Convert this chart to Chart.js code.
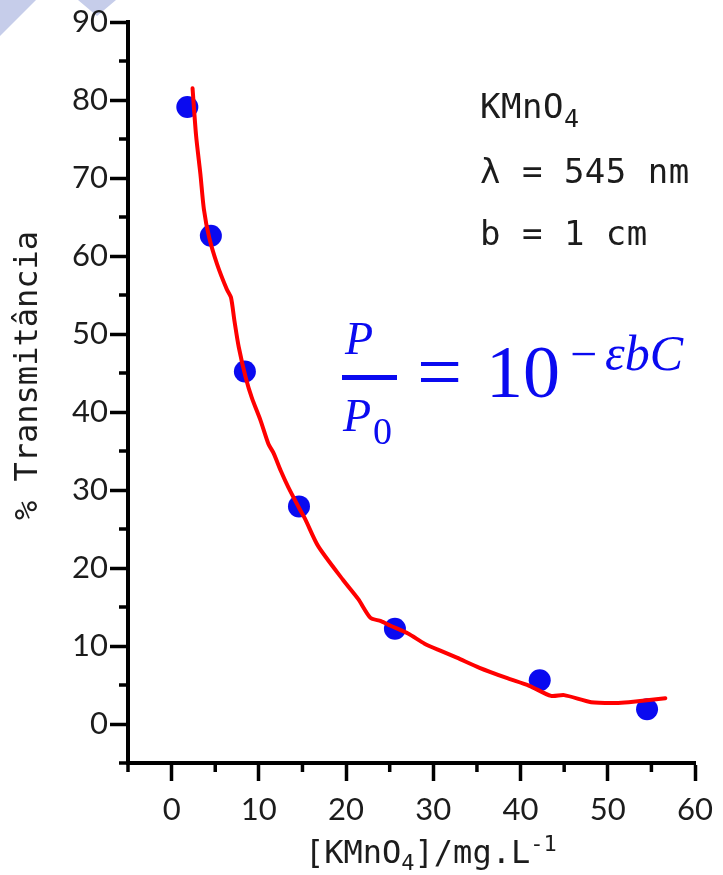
<!DOCTYPE html>
<html>
<head>
<meta charset="utf-8">
<script src="https://cdn.jsdelivr.net/npm/chart.js@4.4.1/dist/chart.umd.min.js"></script>
<style>
  html, body { margin: 0; padding: 0; background: #fff; }
  #wrap { position: relative; width: 723px; height: 875px; overflow: hidden; }
  #chartBox { position: absolute; left: 0; top: 0; width: 723px; height: 875px; z-index: 1; }
  .deco { position: absolute; background: #c6cdea; z-index: 0; }
  .mono { position: absolute; z-index: 2; font-family: "DejaVu Sans Mono", monospace; color: #1c1c1c; white-space: pre; line-height: 1; }
  .mono sub, .mono sup { line-height: 0; }
  .math { position: absolute; z-index: 2; font-family: "Liberation Serif", serif; color: #0a0af0; white-space: pre; line-height: 1; }
  .math.it { font-style: italic; }
</style>
</head>
<body>
<div id="wrap">
  <!-- slide background corner shapes -->
  <div class="deco" style="left:0;top:0;width:36px;height:36px;clip-path:polygon(0 0,100% 0,0 100%);"></div>
  <div class="deco" style="left:78px;top:0;width:38px;height:16px;clip-path:polygon(0 0,100% 0,50% 100%);"></div>

  <div id="chartBox"><canvas id="chart"></canvas></div>

  <!-- axis titles -->
  <div class="mono" id="yTitle" style="font-size:32px;left:10px;top:520px;transform-origin:0 0;transform:rotate(-90deg);">% Transmitância</div>
  <div class="mono" id="xTitle" style="font-size:32px;left:305px;top:836px;">[KMnO<sub style="font-size:22px;vertical-align:-7px">4</sub>]/mg.L<sup style="font-size:22px;vertical-align:12px">-1</sup></div>

  <!-- conditions -->
  <div class="mono" style="font-size:34px;left:480px;top:89px;letter-spacing:0.5px;">KMnO<sub style="font-size:25px;vertical-align:-9px">4</sub></div>
  <div class="mono" style="font-size:34px;left:480px;top:154px;letter-spacing:0.5px;">λ = 545 nm</div>
  <div class="mono" style="font-size:34px;left:480px;top:216px;letter-spacing:0.5px;">b = 1 cm</div>

  <!-- Beer-Lambert: P/P0 = 10^-εbC -->
  <div class="math it" style="font-size:46px;left:345px;top:316px;">P</div>
  <div style="position:absolute;z-index:2;left:342px;top:375px;width:55px;height:5px;background:#0a0af0;"></div>
  <div class="math it" style="font-size:46px;left:343px;top:393px;">P</div>
  <div class="math" style="font-size:38px;left:373px;top:412px;">0</div>
  <div class="math" style="font-size:80px;left:417px;top:332px;">=</div>
  <div class="math" style="font-size:74px;left:486px;top:335px;">10</div>
  <div class="math" style="font-size:48px;left:570px;top:330px;">−</div>
  <div class="math it" style="font-size:50px;left:605px;top:328px;">εbC</div>
</div>

<script>
// ── Data ──
const concData  = [1.8, 4.5, 8.4, 14.6, 25.6, 42.2, 54.5];
const transData = [79.1, 62.6, 45.2, 27.9, 12.2, 5.6, 1.9];

// hand-drawn red trend curve
const fitConc  = [2.4, 2.8, 3.3, 3.7, 4.3, 5.2, 6.3, 6.8, 7.2, 7.7, 8.5, 9.2, 10.2, 11.1, 11.7, 12.5, 13.4, 14.8, 15.3, 16.8,
                  19.7, 21.4, 22.8, 24.0, 25.1, 27.1, 29.0, 30.8, 32.7, 35.3, 38.4, 41.0, 43.5, 45.0, 48.1, 50.9, 52.4, 56.6];
const fitTrans = [81.5, 75.5, 70.5, 66.0, 62.4, 59.0, 55.8, 54.7, 51.7, 48.3, 44.4, 41.8, 38.9, 35.9, 34.7, 32.5, 30.3, 27.3, 26.3, 22.8,
                  18.4, 16.0, 13.6, 13.2, 12.6, 11.6, 10.3, 9.4, 8.5, 7.2, 5.9, 4.9, 3.6, 3.7, 2.8, 2.7, 2.8, 3.3];

// ── Axes ──
const xTicks      = [0, 10, 20, 30, 40, 50, 60];
const xMinorTicks = [-5, 5, 15, 25, 35, 45, 55];
const yTicks      = [0, 10, 20, 30, 40, 50, 60, 70, 80, 90];
const yMinorTicks = [-5, 5, 15, 25, 35, 45, 55, 65, 75, 85];

const INK = '#000';
const LABEL_FONT = { family: 'Lato', size: 31 };

// minor tick marks (outside the axes)
const minorTicks = {
  id: 'minorTicks',
  afterDraw(chart) {
    const { ctx, chartArea, scales: { x, y } } = chart;
    ctx.save();
    ctx.strokeStyle = INK;
    ctx.lineWidth = 3.5;
    xMinorTicks.forEach(v => {
      const px = x.getPixelForValue(v);
      ctx.beginPath();
      ctx.moveTo(px, chartArea.bottom);
      ctx.lineTo(px, chartArea.bottom + 9);
      ctx.stroke();
    });
    yMinorTicks.forEach(v => {
      const py = y.getPixelForValue(v);
      ctx.beginPath();
      ctx.moveTo(chartArea.left, py);
      ctx.lineTo(chartArea.left - 9, py);
      ctx.stroke();
    });
    ctx.restore();
  }
};

new Chart(document.getElementById('chart'), {
  type: 'scatter',
  data: {
    datasets: [{
      label: 'ajuste',
      data: fitConc.map((c, i) => ({ x: c, y: fitTrans[i] })),
      showLine: true,
      borderColor: '#ff0000',
      borderWidth: 4,
      tension: 0.25,
      pointRadius: 0,
      borderCapStyle: 'round',
      borderJoinStyle: 'round',
      order: 0
    }, {
      label: 'KMnO4',
      data: concData.map((c, i) => ({ x: c, y: transData[i] })),
      pointRadius: 11,
      pointBackgroundColor: '#0a0af0',
      pointBorderWidth: 0,
      order: 1
    }]
  },
  options: {
    responsive: true,
    maintainAspectRatio: false,
    animation: false,
    layout: { padding: { top: 22, right: 23, left: 0, bottom: 0 } },
    plugins: { legend: { display: false }, tooltip: { enabled: false } },
    scales: {
      x: {
        type: 'linear', min: -5, max: 60,
        afterBuildTicks: s => { s.ticks = xTicks.map(v => ({ value: v })); },
        afterFit: s => { s.height = 112; },
        grid: { drawOnChartArea: false, tickLength: 18, tickWidth: 3.5, tickColor: INK },
        border: { display: true, color: INK, width: 4 },
        ticks: { font: LABEL_FONT, color: '#1c1c1c', padding: 10, maxRotation: 0, autoSkip: false }
      },
      y: {
        type: 'linear', min: -5, max: 90,
        afterBuildTicks: s => { s.ticks = yTicks.map(v => ({ value: v })); },
        afterFit: s => { s.width = 128; },
        grid: { drawOnChartArea: false, tickLength: 18, tickWidth: 3.5, tickColor: INK },
        border: { display: true, color: INK, width: 4 },
        ticks: { font: LABEL_FONT, color: '#1c1c1c', padding: 2, autoSkip: false }
      }
    }
  },
  plugins: [minorTicks]
});
</script>
</body>
</html>
